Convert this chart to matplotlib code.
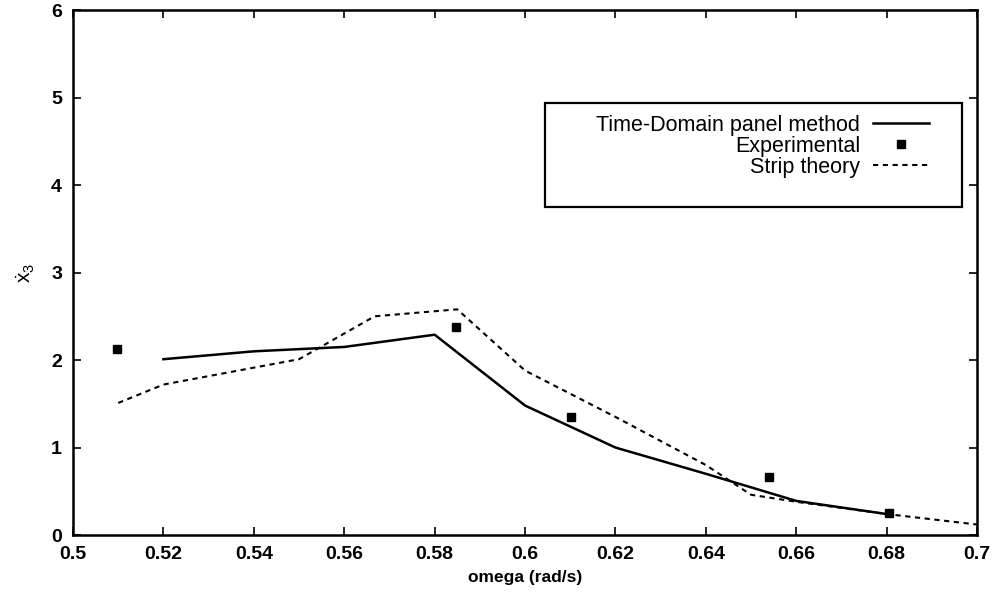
import matplotlib

matplotlib.use("Agg")
import matplotlib.pyplot as plt
from matplotlib.patches import Rectangle

plt.rcParams["font.family"] = ["Liberation Sans", "DejaVu Sans"]
plt.rcParams["mathtext.fontset"] = "custom"
plt.rcParams["mathtext.rm"] = "Liberation Sans"
plt.rcParams["mathtext.it"] = "Liberation Sans"

# Time-Domain panel method (solid)
td_omega = [0.52, 0.54, 0.56, 0.58, 0.60, 0.62, 0.64, 0.66, 0.68]
td_x3 = [2.01, 2.10, 2.15, 2.29, 1.48, 1.00, 0.70, 0.39, 0.24]

# Experimental (squares)
exp_omega = [0.5097, 0.5847, 0.6102, 0.6540, 0.6806]
exp_x3 = [2.13, 2.38, 1.35, 0.66, 0.25]

# Strip theory (dashed)
st_omega = [0.51, 0.52, 0.55, 0.5667, 0.585, 0.60, 0.62, 0.64, 0.65, 0.66, 0.68, 0.70]
st_x3 = [1.51, 1.72, 2.01, 2.50, 2.58, 1.88, 1.35, 0.80, 0.46, 0.38, 0.24, 0.12]

x_ticks = [0.5, 0.52, 0.54, 0.56, 0.58, 0.6, 0.62, 0.64, 0.66, 0.68, 0.7]
x_tick_labels = ["0.5", "0.52", "0.54", "0.56", "0.58", "0.6", "0.62", "0.64", "0.66", "0.68", "0.7"]
y_ticks = [0, 1, 2, 3, 4, 5, 6]


def main() -> None:
    fig = plt.figure(figsize=(9.95, 5.97), dpi=100)
    ax = fig.add_axes([0.0734, 0.1038, 0.9086, 0.8792])

    ax.plot(td_omega, td_x3, color="black", linewidth=1.8,
            label="Time-Domain panel method")
    ax.plot(exp_omega, exp_x3, linestyle="none", marker="s", markersize=6,
            color="black", label="Experimental")
    ax.plot(st_omega, st_x3, color="black", linewidth=1.5,
            linestyle=(0, (2.5, 2.2)), label="Strip theory")

    ax.set_xlim(0.5, 0.7)
    ax.set_ylim(0, 6)
    ax.set_xticks(x_ticks)
    ax.set_xticklabels(x_tick_labels)
    ax.set_yticks(y_ticks)
    ax.tick_params(direction="in", top=True, right=True, length=6, width=1.2,
                   labelsize=14, pad=8)
    for lab in ax.get_xticklabels() + ax.get_yticklabels():
        lab.set_fontweight("bold")
    for spine in ax.spines.values():
        spine.set_linewidth(1.8)

    ax.set_xlabel("omega (rad/s)", fontsize=12.5, fontweight="bold", labelpad=5)
    ax.set_ylabel(r"$\dot{x}_3$", fontsize=15, labelpad=10)

    ax.add_patch(Rectangle((0.522, 0.625), 0.461, 0.198, transform=ax.transAxes,
                           fill=False, edgecolor="black", linewidth=1.6, zorder=5))
    leg = ax.legend(loc="upper right", bbox_to_anchor=(0.966, 0.834),
                    frameon=False, markerfirst=False, fontsize=15.5,
                    handlelength=2.6, handletextpad=0.6, labelspacing=0.0,
                    borderpad=0.3)
    for t in leg.get_texts():
        t.set_ha("right")
    leg._legend_box.align = "right"

    fig.savefig("out.png")


if __name__ == "__main__":
    main()
